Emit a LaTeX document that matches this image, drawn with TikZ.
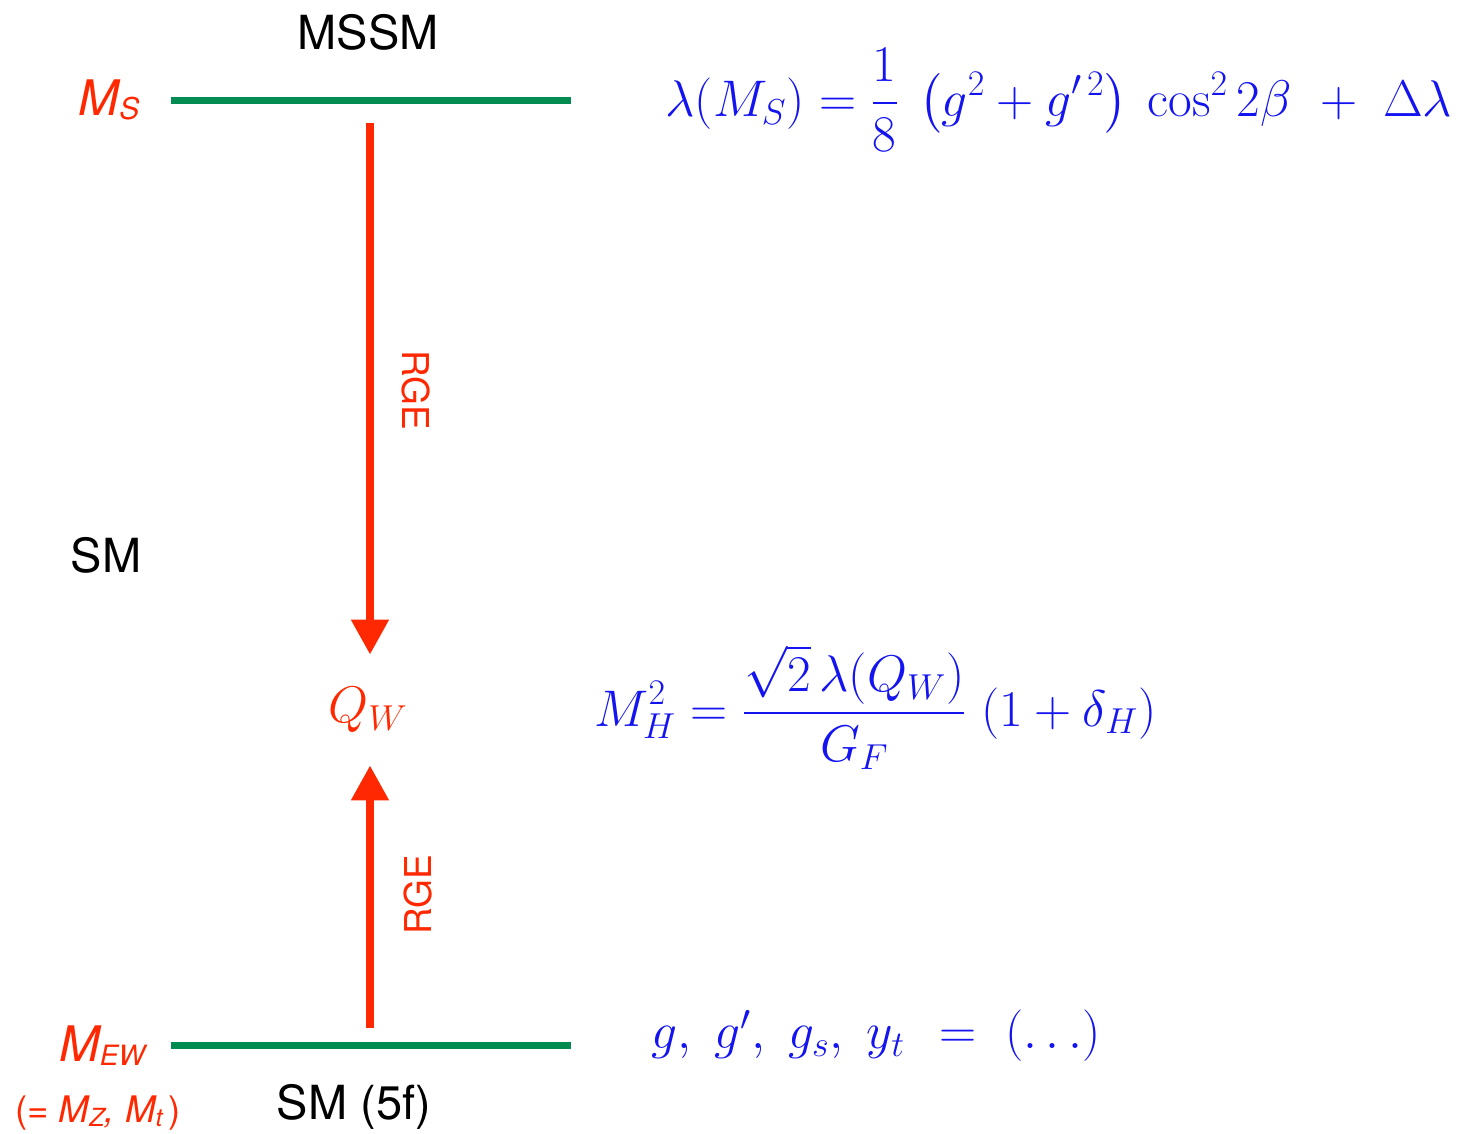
\RequirePackage{fix-cm}
\documentclass[tikz,border=0pt]{standalone}
\usepackage{amsmath}
\usepackage{fontspec}
\newfontfamily\hv{TeX Gyre Heros}
\usetikzlibrary{arrows.meta}
\definecolor{lvlgreen}{RGB}{0,140,80}
\definecolor{rgered}{RGB}{255,40,0}
\definecolor{eqblue}{RGB}{20,20,240}
\tikzset{
  level/.style={draw=lvlgreen, line width=3.5pt},
  rgearrow/.style={draw=rgered, line width=4pt, -{Triangle[length=17.5pt,width=18pt]}},
  sans/.style={font=\hv\fontsize{23.5}{28}\selectfont, inner sep=0pt},
  scalelbl/.style={text=rgered, font=\hv\itshape\fontsize{24.5}{28}\selectfont, inner sep=0pt},
  rgelbl/.style={text=rgered, font=\hv\fontsize{18.5}{22}\selectfont, inner sep=0pt},
  eq/.style={text=eqblue, font=\fontsize{25.75}{31}\selectfont, inner sep=0pt, anchor=west},
}
\newcommand{\subsc}[2][15]{\raisebox{-2pt}{\fontsize{#1}{#1}\selectfont #2}}
\begin{document}
\begin{tikzpicture}[x=0.5pt, y=-0.5pt]
\useasboundingbox (0,0) rectangle (1458,1134);
% levels
\coordinate (msL) at (171,101);
\coordinate (msR) at (571,101);
\coordinate (ewL) at (171,1045);
\coordinate (ewR) at (571,1045);
\draw[level] (msL) -- (msR);
\draw[level] (ewL) -- (ewR);
% labels
\node[sans] (mssm) at (368,32) {MSSM};
\node[sans] (sm) at (106,555) {SM};
\node[sans] (sm5f) at (354,1107) {SM (5f)};
\node[scalelbl] (ms) at (109,100) {M\subsc{S}};
\node[scalelbl] (mew) at (102,1046) {M\subsc[14]{EW}};
\node[text=rgered, font=\hv\itshape\fontsize{18.3}{22}\selectfont, inner sep=0pt] (mzmt) at (98,1113)
  {{\upshape(=} M\subsc[12.5]{Z}, M\subsc[12.5]{t}\,{\upshape)}};
% QW and arrows
\node[text=rgered, font=\fontsize{25.75}{31}\selectfont, inner sep=0pt, minimum height=55pt] (qw) at (368,710) {$Q_W$};
\coordinate (topstart) at (370,123);
\coordinate (botstart) at (370,1028);
\draw[rgearrow] (topstart) -- (topstart |- qw.north);
\draw[rgearrow] (botstart) -- (botstart |- qw.south);
\node[rgelbl, rotate=-90] (rge1) at (416,390) {RGE};
\node[rgelbl, rotate=90] (rge2) at (418,895) {RGE};
% equations
\node[eq] (eq1) at (665,100) {$\displaystyle \lambda(M_S) = \frac{1}{8}\mkern7mu\bigl(g^2+g'^{\,2}\bigr)\mkern4mu\cos^2 2\beta\mkern6mu+\mkern5mu\Delta\lambda$};
\node[eq] (eq2) at (594,707) {$\displaystyle M_H^2=\frac{\sqrt{2}\,\lambda(Q_W)}{G_F}\;(1+\delta_H)$};
\node[eq] (eq3) at (651,1036) {$g,\;g',\;g_s,\;y_t\mkern7mu=\mkern5mu(\ldots)$};
\end{tikzpicture}
\end{document}
